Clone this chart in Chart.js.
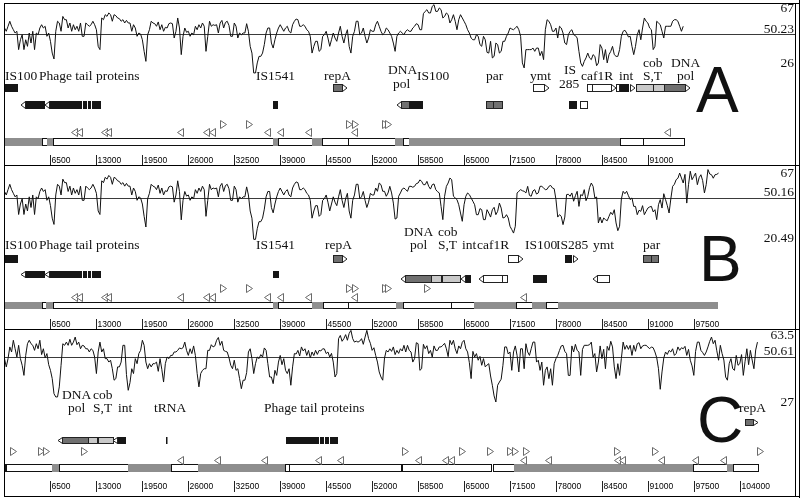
<!DOCTYPE html>
<html lang="en">
<head>
<meta charset="UTF-8">
<title>GC content maps A, B, C</title>
<script src="https://cdn.jsdelivr.net/npm/chart.js"></script>
<style>
  body { margin: 0; background: #fff; }
  #wrap { position: relative; width: 800px; height: 498px; }
  canvas { position: absolute; left: 0; }
</style>
</head>
<body>
<div id="wrap">
  <canvas id="panelA" width="800" height="165" style="top:0px"></canvas>
  <canvas id="panelB" width="800" height="164" style="top:165px"></canvas>
  <canvas id="panelC" width="800" height="169" style="top:329px"></canvas>
</div>
<script>
// GC windows, one value every STEP bp
const STEP = 250;

const gcA = [
  53.7,51.8, 54.7,57.6, 54.7,52.7, 50.8,51.8, 41.2,46.9,
  49.8,41.2, 46.9,43.1, 50.8,45.0, 51.8,41.2, 50.8,49.8,
  53.7,55.6, 53.7,54.7, 48.9,50.8, 46.0,39.2, 35.8,51.8,
  57.6,56.6, 51.8,60.4, 58.5,58.5, 53.7,56.6, 51.8,55.6,
  52.7,54.7, 51.8,56.6, 48.9,48.9, 56.6,55.6, 54.7,55.6,
  57.6,55.6, 52.7,43.1, 41.2,59.5, 58.5,61.4, 60.4,62.4,
  61.4,57.6, 61.4,60.8, 59.5,59.1, 57.6,58.5, 56.6,58.1,
  56.6,56.6, 51.8,55.6, 53.7,48.9, 50.8,50.2, 46.9,40.2,
  34.4,49.8, 52.7,57.6, 56.6,56.2, 54.7,57.2, 52.7,55.6,
  51.8,54.1, 53.7,56.2, 56.6,56.2, 47.9,51.8, 59.5,53.7,
  38.3,48.9, 53.7,51.2, 51.8,48.9, 50.8,49.8, 54.7,52.7,
  55.6,53.7, 56.6,54.7, 40.2,48.9, 57.6,54.7, 55.6,55.2,
  55.6,50.8, 56.6,58.1, 53.7,56.9, 57.6,55.2, 48.9,48.9,
  56.6,54.7, 47.9,50.8, 49.8,50.8, 50.8,56.2, 51.8,43.1,
  39.2,27.7, 27.7,33.5, 37.3,37.3, 39.2,44.1, 50.8,53.7,
  53.7,45.0, 42.1,46.9, 50.8,53.7, 55.6,53.7, 51.8,53.7,
  54.7,51.8, 50.8,55.6, 57.6,58.9, 58.5,54.7, 54.7,55.6,
  54.7,52.7, 51.8,48.9, 39.2,43.1, 46.0,46.0, 40.2,41.2,
  48.9,49.8, 51.8,47.9, 43.1,46.9, 50.8,47.9, 46.0,50.8,
  54.7,48.9, 45.0,49.8, 52.7,43.1, 39.2,48.9, 51.8,57.6,
  57.6,49.8, 50.8,53.7, 48.9,45.0, 47.9,52.7, 51.8,51.8,
  55.6,57.6, 54.7,51.8, 49.8,50.8, 53.7,52.7, 50.8,48.9,
  45.0,40.2, 48.9,50.8, 51.8,50.8, 49.8,51.8, 52.7,51.8,
  51.8,53.7, 54.7,56.2, 55.6,52.7, 52.7,62.0, 63.3,64.3,
  62.4,62.4, 66.2,67.2, 63.3,63.3, 65.3,64.3, 59.5,60.4,
  62.4,61.4, 56.6,58.5, 61.4,57.6, 52.7,58.5, 61.4,59.5,
  57.6,55.6, 52.7,50.8, 47.9,46.9, 46.9,49.8, 48.9,44.1,
  43.1,48.9, 46.9,39.6, 39.2,46.0, 36.4,37.3, 45.0,44.1,
  39.2,40.2, 46.0,46.0, 48.9,50.8, 53.7,53.1, 52.7,53.7,
  54.7,52.7, 48.9,33.5, 30.6,41.2, 41.2,41.2, 41.2,42.1,
  40.2,42.1, 42.1,37.7, 40.2,35.4, 52.7,58.5, 57.6,55.6,
  51.8,51.8, 53.7,47.9, 54.7,53.7, 50.8,45.0, 44.1,49.8,
  51.8,52.7, 49.8,49.3, 47.9,40.2, 33.5,31.5, 34.4,36.4,
  39.2,36.4, 35.4,38.3, 37.3,31.9, 33.5,44.1, 42.1,35.4,
  41.2,33.5, 38.3,40.2, 43.1,38.3, 37.3,37.3, 41.2,48.9,
  51.8,52.4, 50.8,48.5, 48.9,43.1, 38.3,43.1, 49.8,52.7,
  46.9,53.7, 59.5,57.6, 56.6,53.7, 52.7,41.2, 43.1,57.6,
  56.6,55.6, 51.8,47.9, 54.7,54.7, 54.7,54.7, 57.6,58.5,
  58.5,57.6, 54.7,51.8, 54.7
];

const gcB = [
  53.7,51.8, 54.7,57.6, 54.7,52.7, 50.8,51.8, 41.2,46.9,
  49.8,41.2, 46.9,43.1, 50.8,45.0, 51.8,41.2, 50.8,49.8,
  53.7,55.6, 53.7,54.7, 48.9,50.8, 46.0,39.2, 35.8,51.8,
  57.6,56.6, 51.8,60.4, 58.5,58.5, 53.7,56.6, 51.8,55.6,
  52.7,54.7, 51.8,56.6, 48.9,48.9, 56.6,55.6, 54.7,55.6,
  57.6,55.6, 52.7,43.1, 41.2,59.5, 58.5,61.4, 60.4,62.4,
  61.4,57.6, 61.4,60.8, 59.5,59.1, 57.6,58.5, 56.6,58.1,
  56.6,56.6, 51.8,55.6, 53.7,48.9, 50.8,50.2, 46.9,40.2,
  34.4,49.8, 52.7,57.6, 56.6,56.2, 54.7,57.2, 52.7,55.6,
  51.8,54.1, 53.7,56.2, 56.6,56.2, 47.9,51.8, 59.5,53.7,
  38.3,48.9, 53.7,51.2, 51.8,48.9, 50.8,49.8, 54.7,52.7,
  55.6,53.7, 56.6,54.7, 40.2,48.9, 57.6,54.7, 55.6,55.2,
  55.6,50.8, 56.6,58.1, 53.7,56.9, 57.6,55.2, 48.9,48.9,
  56.6,54.7, 47.9,50.8, 49.8,50.8, 50.8,56.2, 51.8,43.1,
  39.2,27.7, 27.7,33.5, 37.3,37.3, 39.2,44.1, 50.8,53.7,
  53.7,45.0, 42.1,46.9, 50.8,53.7, 55.6,53.7, 51.8,53.7,
  54.7,51.8, 50.8,55.6, 57.6,58.9, 58.5,54.7, 54.7,55.6,
  54.7,52.7, 51.8,48.9, 39.2,43.1, 46.0,46.0, 40.2,41.2,
  48.9,49.8, 51.8,47.9, 43.1,46.9, 50.8,47.9, 46.0,50.8,
  54.7,48.9, 45.0,49.8, 52.7,43.1, 39.2,48.9, 51.8,57.6,
  57.6,49.8, 50.8,53.7, 48.9,45.0, 47.9,52.7, 51.8,51.8,
  55.6,53.8, 58.3,57.4, 53.8,53.8, 51.1,52.9, 56.5,52.9,
  47.4,38.7, 39.3,51.1, 52.9,55.0, 55.6,54.7, 53.8,56.5,
  56.5,56.0, 56.5,58.0, 58.3,60.0, 59.2,57.4, 57.4,59.2,
  56.5,55.0, 57.4,57.8, 54.7,53.6, 52.9,45.6, 38.4,51.1,
  56.5,58.3, 61.0,60.1, 51.1,50.2, 49.3,46.5, 42.0,37.5,
  46.5,51.1, 52.9,52.0, 50.2,48.4, 46.5,41.1, 41.1,44.4,
  43.8,38.4, 38.4,43.8, 42.0,39.8, 43.8,45.1, 41.1,42.9,
  47.4,44.7, 39.3,39.6, 41.1,39.3, 34.8,33.0, 31.1,34.8,
  52.9,53.8, 54.7,54.1, 53.8,52.9, 56.5,51.6, 51.1,54.0,
  54.7,52.3, 52.9,56.5, 56.5,55.6, 54.7,54.9, 56.5,57.0,
  55.6,55.2, 49.3,39.8, 41.1,40.2, 35.7,39.8, 52.0,52.2,
  51.1,52.9, 48.4,51.4, 53.8,45.6, 52.0,51.4, 54.7,48.7,
  51.1,55.8, 58.3,56.5, 50.2,50.7, 36.6,39.8, 36.6,39.3,
  38.4,37.8, 40.2,42.4, 41.1,43.8, 36.6,32.4, 34.8,49.6,
  53.8,52.5, 53.8,51.4, 49.3,50.2, 45.6,45.6, 41.1,43.5,
  42.9,46.0, 41.1,42.9, 44.7,45.3, 45.6,42.6, 43.8,38.4,
  46.5,49.3, 44.7,52.5, 49.3,46.0, 42.0,49.8, 56.5,57.6,
  60.1,60.9, 63.7,61.0, 58.3,63.0, 47.4,57.4, 64.7,60.1,
  61.9,63.7, 57.4,61.2, 62.8,59.6, 52.9,57.4, 65.6,63.2,
  62.8,60.9, 62.8,63.0, 63.7
];

const gcC = [
  49.8,45.7, 49.8,55.6, 53.1,58.9, 54.7,50.6, 56.4,49.8,
  46.5,41.5, 51.4,57.2, 58.9,57.2, 56.4,53.9, 57.2,54.7,
  58.9,51.8, 54.7,50.1, 52.3,46.8, 44.0,39.9, 32.4,30.8,
  30.8,35.8, 46.5,57.2, 56.4,58.0, 56.4,59.4, 56.4,58.0,
  60.5,56.7, 58.0,54.7, 56.4,56.1, 54.7,54.7, 53.1,54.7,
  53.9,50.6, 42.4,53.1, 58.0,53.1, 54.7,49.8, 49.8,48.1,
  49.0,44.8, 39.1,39.9, 45.7,45.7, 48.1,56.4, 56.4,41.9,
  34.1,37.9, 44.8,42.4, 49.8,47.3, 52.3,53.9, 58.9,56.4,
  48.1,44.8, 47.3,45.7, 47.3,47.3, 48.1,43.5, 49.8,44.5,
  38.2,47.3, 50.6,49.8, 51.4,51.4, 53.1,53.1, 53.9,55.1,
  54.7,55.2, 58.0,53.9, 51.4,54.7, 52.3,56.1, 51.4,42.4,
  35.8,42.4, 44.0,44.8, 44.8,53.9, 53.9,56.7, 55.6,56.1,
  58.9,60.3, 56.4,58.4, 53.9,53.4, 53.1,50.3, 46.5,44.8,
  49.0,44.0, 44.8,39.9, 34.9,39.1, 39.1,42.9, 53.1,54.7,
  49.8,42.4, 47.3,50.6, 49.8,51.8, 50.6,55.1, 53.9,47.3,
  40.7,40.7, 37.4,44.0, 41.5,48.1, 51.4,46.8, 49.8,44.0,
  42.4,44.8, 36.6,45.7, 52.3,52.1, 53.9,51.1, 55.6,53.6,
  54.7,51.4, 53.9,50.1, 53.1,51.3, 53.9,51.9, 53.9,53.6,
  54.7,54.6, 52.3,53.1, 50.6,52.4, 48.1,40.7, 42.4,59.7,
  61.3,58.4, 59.7,61.7, 58.9,62.3, 63.8,59.7, 58.0,58.5,
  58.0,58.5, 59.7,56.9, 60.5,63.8, 59.7,57.4, 53.9,55.2,
  51.4,48.1, 43.2,40.7, 39.1,50.1, 53.9,53.1, 54.7,53.4,
  55.6,51.8, 53.9,52.4, 54.7,53.6, 56.4,53.1, 56.4,53.9,
  53.1,48.1, 49.8,57.7, 57.2,44.0, 44.8,56.9, 54.7,56.2,
  52.3,53.9, 50.6,56.1, 53.9,53.9, 55.6,55.6, 56.4,57.4,
  54.7,50.8, 58.9,56.7, 58.9,54.7, 52.3,56.1, 54.7,57.9,
  58.9,54.7, 53.1,47.8, 39.9,53.4, 50.6,52.3, 49.0,50.9,
  46.5,49.8, 45.7,46.6, 47.3,41.2, 36.6,31.3, 28.3,36.6,
  38.2,39.6, 46.5,55.6, 55.6,52.1, 53.1,44.0, 53.1,56.1,
  51.4,43.2, 54.7,54.7, 44.8,57.2, 53.1,51.4, 54.7,58.0,
  58.0,48.1, 49.0,44.0, 48.1,36.6, 44.0,45.7, 39.9,44.8,
  36.6,47.3, 49.8,51.4, 53.9,56.1, 56.4,53.4, 52.3,41.5,
  41.5,56.1, 53.1,56.9, 53.9,53.1, 41.5,54.4, 56.4,56.4,
  56.4,56.7, 58.0,50.6, 52.3,43.2, 48.1,56.1, 49.8,54.4,
  44.8,55.9, 53.9,58.4, 55.6,45.7, 39.9,47.3, 41.5,49.8,
  58.0,54.4, 56.4,54.4, 56.4,51.4, 56.4,53.4, 57.2,57.7,
  54.7,56.1, 56.4,56.4, 55.6,54.7, 55.6,55.2, 53.1,50.3,
  44.8,34.6, 43.2,50.1, 53.1,51.9, 53.9,53.1, 54.7,51.4,
  52.3,55.6, 53.9,55.2, 54.7,55.9, 51.4,54.4, 49.0,46.2,
  41.5,53.4, 58.0,58.0, 53.9,52.8, 51.4,53.1, 55.6,58.4,
  60.5,57.2, 58.9,53.7, 49.0,56.4, 52.3,49.1, 40.7,39.1,
  47.3,49.8, 44.8,44.0, 51.4,46.5, 47.3,51.8, 41.5,48.5,
  54.7,46.8, 53.9,49.1, 44.8,54.1, 58.0
];

// mean GC and right-hand scale labels
const meanA = 50.23, meanB = 50.16, meanC = 50.61;
const scaleA = ['67', '50.23', '26'];
const scaleB = ['67', '50.16', '20.49'];
const scaleC = ['63.5', '50.61', '27'];

// map positions (bp)
const ticksA = [6500, 13000, 19500, 26000, 32500, 39000, 45500, 52000, 58500, 65000, 71500, 78000, 84500, 91000];
const ticksB = [6500, 13000, 19500, 26000, 32500, 39000, 45500, 52000, 58500, 65000, 71500, 78000, 84500, 91000, 97500];
const ticksC = [6500, 13000, 19500, 26000, 32500, 39000, 45500, 52000, 58500, 65000, 71500, 78000, 84500, 91000, 97500, 104000];

// genes: [start, end, track, kind, strand arrow]
// kind: k black, d dark grey, l light grey, w white
const genesA = [
  [70, 2050, 1, 'k', 0],
  [2900, 5870, 2, 'k', -1], [6290, 11100, 2, 'k', -1], [11100, 11740, 2, 'k', 0],
  [11740, 12370, 2, 'k', 0], [12370, 13790, 2, 'k', 0],
  [37980, 38830, 2, 'k', 0],
  [46460, 47740, 1, 'd', 1],
  [56080, 57210, 2, 'd', -1], [57210, 59330, 2, 'k', 0],
  [68100, 69090, 2, 'd', 0], [69090, 70360, 2, 'd', 0],
  [74750, 76310, 1, 'w', 1],
  [79840, 81110, 2, 'k', 0], [81390, 82390, 2, 'w', 0],
  [82390, 83100, 1, 'w', 0], [83100, 85790, 1, 'w', 1], [86500, 86920, 1, 'w', 0],
  [87060, 88470, 1, 'k', 1],
  [89320, 91720, 1, 'l', 0], [91720, 93280, 1, 'l', 0],
  [93280, 96250, 1, 'd', 1]
];
const genesB = [
  [70, 2050, 1, 'k', 0],
  [2900, 5870, 2, 'k', -1], [6290, 11100, 2, 'k', -1], [11100, 11740, 2, 'k', 0],
  [11740, 12370, 2, 'k', 0], [12370, 13790, 2, 'k', 0],
  [37980, 38970, 2, 'k', 0],
  [46460, 47740, 1, 'd', 1],
  [56650, 60320, 3, 'd', -1], [60320, 61730, 3, 'l', 0], [61880, 64430, 3, 'l', 0],
  [65140, 66120, 3, 'k', -1],
  [67660, 70360, 3, 'w', -1], [70360, 71070, 3, 'w', 0],
  [71220, 72630, 1, 'w', 1],
  [74750, 76880, 3, 'k', 0],
  [79270, 80400, 1, 'k', 1],
  [83800, 85500, 3, 'w', -1],
  [90300, 91440, 1, 'd', 0], [91440, 92430, 1, 'd', 0]
];
const genesC = [
  [104740, 105870, 1, 'd', 1],
  [8130, 11810, 2, 'd', -1], [11810, 13080, 2, 'l', 0], [13220, 15350, 2, 'l', 0],
  [15910, 17330, 2, 'k', -1],
  [22910, 23120, 2, 'k', 0],
  [39810, 44620, 2, 'k', 0], [44620, 45330, 2, 'k', 0], [45330, 46040, 2, 'k', 0], [46040, 47310, 2, 'k', 0]
];

// map bar segments: [start, end, kind] (g grey, w white, k black)
const mapA = [
  [0, 5300, 'g'], [5300, 6000, 'w'], [6000, 6860, 'g'], [6860, 37980, 'w'], [37980, 38690, 'g'],
  [38690, 43490, 'w'], [43490, 44910, 'g'], [44910, 48580, 'w'], [48580, 55230, 'w'], [55230, 56360, 'g'],
  [56360, 57210, 'w'], [57210, 87050, 'g'], [87050, 90300, 'w'], [90300, 96110, 'w']
];
const mapB = [
  [0, 5300, 'g'], [5300, 5870, 'w'], [5870, 6860, 'g'], [6860, 37980, 'w'], [37980, 38690, 'g'],
  [38690, 43490, 'w'], [43490, 45050, 'g'], [45050, 48580, 'w'], [48580, 55370, 'w'], [55370, 56360, 'g'],
  [56360, 63150, 'w'], [63150, 66400, 'w'], [66400, 72340, 'g'], [72340, 74600, 'w'], [74600, 76590, 'g'],
  [76590, 78290, 'w'], [78290, 100920, 'g']
];
const mapC = [
  [0, 210, 'k'], [210, 6720, 'w'], [6720, 7710, 'g'], [7710, 17470, 'w'], [17470, 23550, 'g'],
  [23550, 27370, 'w'], [27370, 39670, 'g'], [39670, 40240, 'w'], [40240, 56080, 'w'], [56220, 68810, 'w'],
  [69090, 72060, 'w'], [72060, 97380, 'g'], [97380, 102190, 'w'], [102190, 103040, 'g'], [103040, 106580, 'w']
];

// small open triangles (forward / reverse)
const fwdA = [30900, 34580, 48730, 49570, 53810, 54310];
const revA = [9830, 10540, 14070, 14640, 24820, 28500, 29350, 37130, 38970, 42930, 49500, 93700];
const fwdB = [30900, 34580, 48730, 49570, 53810, 54310, 59760];
const revB = [9830, 10540, 14070, 14640, 24820, 28500, 29350, 37130, 38970, 42930, 49500, 73400];
const fwdC = [1200, 5230, 5800, 11310, 56710, 64710, 68600, 71430, 72140, 73830, 86610, 92000, 106850];
const revC = [24820, 30120, 36700, 44340, 47450, 58480, 62300, 63150, 73330, 76870, 86610, 87320, 92850, 97660, 101620];

// gene labels: [text, bp of left edge, level]
const labelsA = [
  ['IS100', 70, 'main'], ['Phage tail proteins', 4880, 'main'], ['IS1541', 35570, 'main'],
  ['repA', 45190, 'main'], ['DNA', 54240, 'mid'], ['pol', 54950, 'low'], ['IS100', 58340, 'main'],
  ['par', 68100, 'main'], ['ymt', 74330, 'main'], ['IS', 79130, 'mid'], ['285', 78430, 'low'],
  ['caf1R', 81540, 'main'], ['int', 86920, 'main'], ['cob', 90310, 'up'], ['S,T', 90310, 'main'],
  ['DNA', 94270, 'up'], ['pol', 95120, 'main']
];
const labelsB = [
  ['IS100', 70, 'main'], ['Phage tail proteins', 4880, 'main'], ['IS1541', 35570, 'main'],
  ['repA', 45330, 'main'], ['DNA', 56500, 'up'], ['pol', 57350, 'main'], ['cob', 61310, 'up'],
  ['S,T', 61310, 'main'], ['int', 64710, 'main'], ['caf1R', 66830, 'main'], ['IS100', 73620, 'main'],
  ['IS285', 78010, 'main'], ['ymt', 83240, 'main'], ['par', 90310, 'main']
];
const labelsC = [
  ['DNA', 8130, 'up'], ['pol', 8980, 'main'], ['cob', 12520, 'up'], ['S,T', 12520, 'main'],
  ['int', 16050, 'main'], ['tRNA', 21150, 'main'], ['Phage tail proteins', 36700, 'main'],
  ['repA', 103890, 'main']
];

// ---- layout / style ----
const PX_PER_BP = 0.00707;
const X0 = 4.5;
const FRAME_R = 795.5;
const FILL = { k: '#161616', d: '#707070', l: '#c9c9c9', w: '#ffffff', g: '#8e8e8e' };
const SERIF = '13.5px "Liberation Serif", "Times New Roman", serif';

const layoutA = {
  frameTop: 3.5, frameBottom: null, anchor: [67, 5, 34],
  levels: { up: 63, mid: 70, main: 76.5, low: 84 },
  tracks: { 1: [84, 92], 2: [101, 109] },
  triUp: 124, triDn: 132, map: [138, 146], tick: [155, 165], tickText: 163,
  scaleY: [8, 29, 63], letter: ['A', 696, 112]
};
const layoutB = {
  frameTop: 0.5, frameBottom: null, anchor: [67, 2, 33],
  levels: { up: 67, main: 80 },
  tracks: { 1: [90, 98], 2: [106, 113], 3: [110, 118] },
  triUp: 123, triDn: 132, map: [137, 144], tick: [154, 164], tickText: 161.5,
  scaleY: [8, 27, 73], letter: ['B', 699, 116]
};
const layoutC = {
  frameTop: 0.5, frameBottom: 167.5, anchor: [63.5, 2, 28],
  levels: { up: 66, main: 79 },
  tracks: { 1: [90, 97], 2: [108, 115] },
  triUp: 122, triDn: 131, map: [135, 143], tick: [152, 163], tickText: 160,
  scaleY: [6, 22, 73], letter: ['C', 697, 113]
};

function yRange(hiVal, hiPx, midVal, midPx, height) {
  const k = (midPx - hiPx) / (hiVal - midVal);
  const max = hiVal + hiPx / k;
  return { min: max - height / k, max: max };
}

function tri(ctx, cx, cy, dir) {
  ctx.beginPath();
  ctx.moveTo(cx - 3 * dir, cy - 4);
  ctx.lineTo(cx + 3 * dir, cy);
  ctx.lineTo(cx - 3 * dir, cy + 4);
  ctx.closePath();
  ctx.fillStyle = '#fff';
  ctx.fill();
  ctx.stroke();
}

function genomePlugin(p) {
  return {
    id: 'genome',
    beforeDatasetsDraw(chart) {
      const ctx = chart.ctx;
      const y = Math.round(chart.scales.y.getPixelForValue(p.mean)) + 0.5;
      ctx.save();
      ctx.strokeStyle = '#3a3a3a';
      ctx.lineWidth = 1;
      ctx.beginPath();
      ctx.moveTo(chart.scales.x.getPixelForValue(0), y);
      ctx.lineTo(FRAME_R, y);
      ctx.stroke();
      ctx.restore();
    },
    afterDatasetsDraw(chart) {
      const ctx = chart.ctx;
      const xs = chart.scales.x;
      const px = v => xs.getPixelForValue(v);
      const L = p.layout;
      const H = chart.height;
      ctx.save();
      ctx.lineWidth = 1;

      // map bar
      p.map.forEach(([s, e, k]) => {
        const x0 = Math.round(px(s)), x1 = Math.round(px(e));
        ctx.fillStyle = FILL[k];
        ctx.fillRect(x0, L.map[0], x1 - x0, L.map[1] - L.map[0]);
        if (k === 'w') {
          ctx.strokeStyle = '#111';
          ctx.strokeRect(x0 + 0.5, L.map[0] + 0.5, x1 - x0, L.map[1] - L.map[0] - 1);
        }
      });

      // triangles
      ctx.strokeStyle = '#6a6a6a';
      p.fwd.forEach(b => tri(ctx, Math.round(px(b)) + 0.5, L.triUp + 0.5, 1));
      p.rev.forEach(b => tri(ctx, Math.round(px(b)) + 0.5, L.triDn + 0.5, -1));

      // genes
      p.genes.forEach(([s, e, t, k, dir]) => {
        const [y0, y1] = L.tracks[t];
        const h = y1 - y0;
        const x0 = Math.round(px(s)), x1 = Math.round(px(e));
        ctx.fillStyle = FILL[k];
        if (k === 'k') {
          ctx.fillRect(x0, y0, Math.max(x1 - x0 - 1, 1.5), h);
        } else {
          ctx.fillRect(x0, y0, x1 - x0, h);
          ctx.strokeStyle = '#222';
          ctx.strokeRect(x0 + 0.5, y0 + 0.5, x1 - x0, h - 1);
        }
        if (dir) {
          const xb = dir > 0 ? x1 + 0.5 : x0 + 0.5;
          ctx.beginPath();
          ctx.moveTo(xb, y0 + 0.5);
          ctx.lineTo(xb + 4.5 * dir, (y0 + y1) / 2);
          ctx.lineTo(xb, y1 - 0.5);
          ctx.closePath();
          ctx.fillStyle = '#fff';
          ctx.fill();
          ctx.strokeStyle = '#222';
          ctx.stroke();
        }
      });

      // gene labels
      ctx.fillStyle = '#111';
      ctx.font = SERIF;
      ctx.textAlign = 'left';
      ctx.textBaseline = 'middle';
      p.labels.forEach(([txt, b, lev]) => ctx.fillText(txt, px(b), L.levels[lev]));

      // right-hand GC scale
      ctx.textAlign = 'right';
      p.scale.forEach((txt, i) => ctx.fillText(txt, 794, L.scaleY[i]));

      // panel letter
      ctx.font = '64px "Liberation Sans", Arial, sans-serif';
      ctx.textAlign = 'left';
      ctx.textBaseline = 'alphabetic';
      ctx.fillText(L.letter[0], L.letter[1], L.letter[2]);

      // coordinate ticks
      ctx.font = '8.5px "Liberation Sans", Arial, sans-serif';
      ctx.fillStyle = '#000';
      ctx.strokeStyle = '#222';
      p.ticks.forEach(t => {
        const x = Math.round(px(t)) + 0.5;
        ctx.beginPath();
        ctx.moveTo(x, L.tick[0]);
        ctx.lineTo(x, L.tick[1]);
        ctx.stroke();
        ctx.fillText(String(t), x + 1, L.tickText);
      });

      // frame
      ctx.strokeStyle = '#000';
      ctx.beginPath();
      ctx.moveTo(4, L.frameTop); ctx.lineTo(800, L.frameTop);
      ctx.moveTo(4.5, L.frameTop); ctx.lineTo(4.5, L.frameBottom || H);
      ctx.moveTo(FRAME_R, L.frameTop); ctx.lineTo(FRAME_R, L.frameBottom || H);
      ctx.moveTo(799.5, 0); ctx.lineTo(799.5, H);
      if (L.frameBottom) { ctx.moveTo(4, L.frameBottom); ctx.lineTo(800, L.frameBottom); }
      ctx.stroke();
      ctx.restore();
    }
  };
}

function makePanel(id, p) {
  const canvas = document.getElementById(id);
  const W = canvas.width, H = canvas.height;
  const a = p.layout.anchor;
  const yr = yRange(a[0], a[1], p.mean, a[2], H);
  return new Chart(canvas, {
    type: 'line',
    data: {
      datasets: [{
        data: p.gc.map((v, i) => ({ x: i * STEP, y: v })),
        borderColor: '#111',
        borderWidth: 1,
        pointRadius: 0,
        tension: 0,
        fill: false
      }]
    },
    options: {
      responsive: false,
      animation: false,
      devicePixelRatio: 1,
      layout: { padding: 0 },
      scales: {
        x: { type: 'linear', min: -X0 / PX_PER_BP, max: (W - X0) / PX_PER_BP, display: false },
        y: { min: yr.min, max: yr.max, display: false }
      },
      plugins: { legend: { display: false }, tooltip: { enabled: false } }
    },
    plugins: [genomePlugin(p)]
  });
}

makePanel('panelA', { gc: gcA, mean: meanA, scale: scaleA, ticks: ticksA, genes: genesA, map: mapA,
  fwd: fwdA, rev: revA, labels: labelsA, layout: layoutA });
makePanel('panelB', { gc: gcB, mean: meanB, scale: scaleB, ticks: ticksB, genes: genesB, map: mapB,
  fwd: fwdB, rev: revB, labels: labelsB, layout: layoutB });
makePanel('panelC', { gc: gcC, mean: meanC, scale: scaleC, ticks: ticksC, genes: genesC, map: mapC,
  fwd: fwdC, rev: revC, labels: labelsC, layout: layoutC });
</script>
</body>
</html>
